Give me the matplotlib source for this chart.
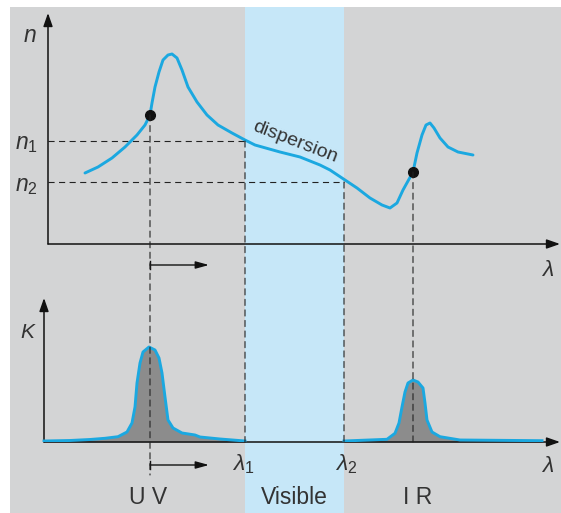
import numpy as np
import matplotlib.pyplot as plt
from matplotlib.patches import Rectangle, ConnectionPatch

plt.rcParams['font.family'] = ['Liberation Sans', 'DejaVu Sans']
plt.rcParams['mathtext.fontset'] = 'custom'
plt.rcParams['mathtext.it'] = 'Liberation Sans:italic'
plt.rcParams['mathtext.rm'] = 'Liberation Sans'

# wavelength scale (arbitrary units), refractive index n and absorption K
lam_n = [85, 98, 112, 125, 137, 145, 150, 152, 155, 159, 163, 168, 172, 177,
         182, 188, 197, 207, 218, 232, 245, 255, 280, 300, 320, 330, 345,
         357, 370, 382, 390, 397, 403, 413, 417, 422, 426, 430, 434, 440,
         448, 458, 473]
n_vals = [0.71, 0.77, 0.86, 0.97, 1.09, 1.19, 1.29, 1.41, 1.57, 1.72, 1.84,
          1.89, 1.90, 1.86, 1.74, 1.57, 1.42, 1.29, 1.19, 1.11, 1.04, 0.99,
          0.92, 0.87, 0.79, 0.74, 0.64, 0.56, 0.46, 0.39, 0.36, 0.41, 0.54,
          0.72, 0.91, 1.09, 1.19, 1.21, 1.16, 1.06, 0.97, 0.92, 0.89]

lam_k_uv = [44, 70, 90, 105, 118, 127, 132, 135, 137, 140, 143, 149, 155, 159,
            162, 165, 168, 173, 182, 195, 200, 220, 245]
k_uv = [0.01, 0.015, 0.025, 0.037, 0.053, 0.10, 0.19, 0.35, 0.59, 0.79, 0.90,
        0.95, 0.92, 0.84, 0.69, 0.45, 0.22, 0.14, 0.09, 0.07, 0.05, 0.03, 0.01]
lam_k_ir = [344, 387, 395, 399, 402, 405, 408, 413, 418, 423, 425, 427, 432,
            440, 460, 542]
k_ir = [0.01, 0.027, 0.087, 0.19, 0.35, 0.50, 0.59, 0.62, 0.60, 0.54, 0.39,
        0.22, 0.10, 0.053, 0.02, 0.013]

lam_uv, lam_ir = 150, 413
lam1, lam2 = 245, 344
n1, n2 = 1.03, 0.62
n_uv, n_ir = 1.29, 0.72

W, H = 561, 513
fig = plt.figure(figsize=(W / 100, H / 100), dpi=100)

bg = fig.add_axes([0, 0, 1, 1])
bg.set_xlim(0, W)
bg.set_ylim(H, 0)
bg.axis('off')
bg.add_patch(Rectangle((10, 7), W - 10, H - 7, color='#d3d4d5', lw=0))
bg.add_patch(Rectangle((lam1, 7), lam2 - lam1, H - 7, color='#c6e7f8', lw=0))

blue = '#1ba8e0'
txt = '#333333'
dash_style = (0, (5.5, 4))
dash = dict(color='#222222', lw=0.8, linestyle=dash_style)

ax_n = fig.add_axes([0, 1 - 244 / H, 1, (244 - 13) / H])
ax_k = fig.add_axes([0, 1 - 442 / H, 1, (442 - 298) / H])
for ax, top in [(ax_n, 2.31), (ax_k, 1.44)]:
    ax.set_xlim(0, W)
    ax.set_ylim(0, top)
    ax.axis('off')
    ax.patch.set_alpha(0)

arr = dict(arrowstyle='-|>,head_length=0.8,head_width=0.28', color='#111111', lw=1.1,
           shrinkA=0, shrinkB=0)
ax_n.annotate('', xy=(48, 2.31), xytext=(48, 0), arrowprops=arr, annotation_clip=False)
ax_n.annotate('', xy=(560, 0), xytext=(48, 0), arrowprops=arr, annotation_clip=False)
ax_k.annotate('', xy=(44, 1.44), xytext=(44, 0), arrowprops=arr, annotation_clip=False)
ax_k.annotate('', xy=(560, 0), xytext=(44, 0), arrowprops=arr, annotation_clip=False)

# dashed guides
ax_n.plot([48, lam1], [n1, n1], **dash)
ax_n.plot([48, lam2], [n2, n2], **dash)
for x, ytop, ybot in [(lam_uv, n_uv, -0.33), (lam1, n1, 0), (lam2, n2, 0), (lam_ir, n_ir, 0)]:
    cp = ConnectionPatch((x, ytop), (x, ybot), 'data', 'data',
                         axesA=ax_n, axesB=ax_k, linestyle=dash_style,
                         color='#222222', lw=0.8)
    cp.set_annotation_clip(False)
    fig.add_artist(cp)

# dispersion curve
ax_n.plot(lam_n, n_vals, color=blue, lw=2.1, solid_capstyle='round',
          solid_joinstyle='round', zorder=3)
ax_n.plot([lam_uv, lam_ir], [n_uv, n_ir], 'o', color='#111111', ms=7, zorder=4)
ax_n.text(295, 1.02, 'dispersion', rotation=-21, ha='center', va='center',
          fontsize=14, color=txt)

# absorption peaks
for lx, ky in [(lam_k_uv, k_uv), (lam_k_ir, k_ir)]:
    ax_k.fill_between(lx, ky, 0, color='#8c8c8c', lw=0, zorder=2)
    ax_k.plot(lx, ky, color=blue, lw=2.1, solid_joinstyle='round', zorder=3)

# small arrows
for y in (265, 465):
    bg.annotate('', xy=(209, y), xytext=(150, y), arrowprops=dict(
        arrowstyle='-|>,head_length=0.8,head_width=0.22',
        color='#111111', lw=1.0, shrinkA=0, shrinkB=0))
    bg.plot([150, 150], [y - 4, y + 4], color='#111111', lw=1.0)

# labels
fs = 16.5
bg.text(30, 36, r'$n$', fontsize=fs, color=txt, ha='center', va='center')
bg.text(26, 143, r'$n_\mathregular{1}$', fontsize=fs, color=txt, ha='center', va='center')
bg.text(26, 185, r'$n_\mathregular{2}$', fontsize=fs, color=txt, ha='center', va='center')
bg.text(28, 332, r'$K$', fontsize=fs - 1.5, color=txt, ha='center', va='center')
bg.text(548, 270, r'$\lambda$', fontsize=fs, color=txt, ha='center', va='center')
bg.text(548, 466, r'$\lambda$', fontsize=fs, color=txt, ha='center', va='center')
bg.text(243, 464, r'$\lambda_\mathregular{1}$', fontsize=fs, color=txt, ha='center', va='center')
bg.text(346, 464, r'$\lambda_\mathregular{2}$', fontsize=fs, color=txt, ha='center', va='center')
bg.text(148, 498, 'U V', fontsize=fs, color=txt, ha='center', va='center')
bg.text(294, 498, 'Visible', fontsize=fs, color=txt, ha='center', va='center')
bg.text(418, 498, 'I R', fontsize=fs, color=txt, ha='center', va='center')

fig.savefig('out.png', dpi=100)
